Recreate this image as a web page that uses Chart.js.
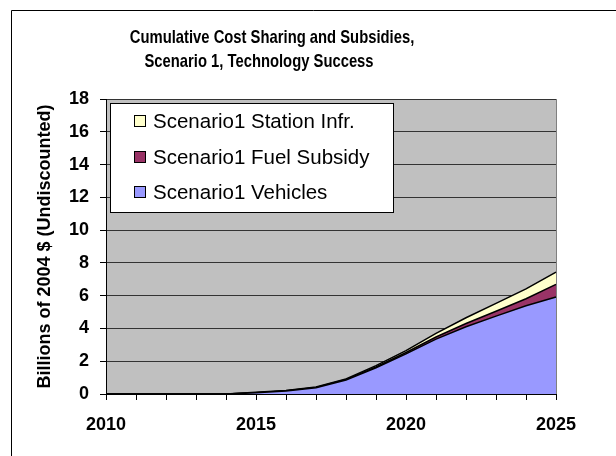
<!DOCTYPE html>
<html>
<head>
<meta charset="utf-8">
<script src="https://cdn.jsdelivr.net/npm/chart.js@4"></script>
<style>
  html, body { margin: 0; padding: 0; background: #fff; }
</style>
</head>
<body>
<canvas id="chart" width="616" height="456"></canvas>
<script>
// data (billions of 2004 $, cumulative)
const years = [2010, 2011, 2012, 2013, 2014, 2015, 2016, 2017, 2018, 2019, 2020, 2021, 2022, 2023, 2024, 2025];
const vehicles = [0, 0, 0, 0, 0, 0.07, 0.18, 0.38, 0.85, 1.6, 2.45, 3.35, 4.1, 4.75, 5.38, 5.92];
const fuelSubsidy = [0, 0, 0, 0, 0, 0.01, 0.02, 0.02, 0.03, 0.05, 0.08, 0.13, 0.2, 0.3, 0.43, 0.77];
const stationInfr = [0, 0, 0, 0, 0, 0.02, 0.02, 0.03, 0.04, 0.08, 0.12, 0.22, 0.35, 0.48, 0.6, 0.75];
const seriesNames = ["Scenario1 Vehicles", "Scenario1 Fuel Subsidy", "Scenario1 Station Infr."];
const seriesColors = ["#9999FF", "#993366", "#FFFFCC"];
const titleLines = ["Cumulative Cost Sharing and Subsidies,", "Scenario 1, Technology Success"];
const yAxisTitle = "Billions of 2004 $ (Undiscounted)";

const black = "#000";
const fontFamily = "'Liberation Sans', Arial, sans-serif";

// gray plot background, outer frame, title and the boxed legend
const excelLook = {
  id: "excelLook",
  beforeDraw(chart) {
    const { ctx, chartArea: a } = chart;
    ctx.save();
    ctx.fillStyle = "#fff";
    ctx.fillRect(0, 0, chart.width, chart.height);
    ctx.fillStyle = "#C0C0C0";
    ctx.fillRect(a.left, a.top, a.right - a.left, a.bottom - a.top);
    ctx.strokeStyle = "#808080";
    ctx.lineWidth = 1;
    ctx.strokeRect(a.left + 0.5, a.top + 0.5, a.right - a.left, a.bottom - a.top);
    ctx.restore();
  },
  afterDatasetsDraw(chart) {
    const { ctx, chartArea: a } = chart;
    ctx.save();
    ctx.strokeStyle = black;
    ctx.lineWidth = 1;
    ctx.beginPath();
    ctx.moveTo(a.left + 0.5, a.top);
    ctx.lineTo(a.left + 0.5, a.bottom + 0.5);
    ctx.lineTo(a.right, a.bottom + 0.5);
    ctx.stroke();
    ctx.restore();
  },
  afterDraw(chart) {
    const ctx = chart.ctx;
    ctx.save();
    // outer chart frame (only top and left edges show)
    ctx.strokeStyle = black;
    ctx.lineWidth = 1;
    ctx.beginPath();
    ctx.moveTo(11.5, chart.height);
    ctx.lineTo(11.5, 10.5);
    ctx.lineTo(chart.width, 10.5);
    ctx.stroke();

    // title, a bit stretched vertically like the original
    ctx.save();
    ctx.fillStyle = black;
    ctx.font = "bold 14.8px " + fontFamily;
    ctx.textAlign = "center";
    ctx.textBaseline = "middle";
    ctx.scale(1, 1.18);
    ctx.fillText(titleLines[0], 272, 38 / 1.18);
    ctx.fillText(titleLines[1], 259, 62 / 1.18);
    ctx.restore();

    // legend box
    ctx.fillStyle = "#fff";
    ctx.fillRect(110.5, 103.5, 283, 109);
    ctx.strokeRect(110.5, 103.5, 283, 109);
    const rows = [121, 157, 192];
    ctx.font = "20.5px " + fontFamily;
    ctx.textAlign = "left";
    ctx.textBaseline = "middle";
    for (let i = 0; i < 3; i++) {
      const k = 2 - i; // legend lists top series first
      ctx.fillStyle = seriesColors[k];
      ctx.fillRect(134.5, rows[i] - 5.5, 11, 11);
      ctx.strokeRect(134.5, rows[i] - 5.5, 11, 11);
      ctx.fillStyle = black;
      ctx.fillText(seriesNames[k], 153, rows[i] + 1);
    }
    ctx.restore();
  },
};

const seriesData = [vehicles, fuelSubsidy, stationInfr];
const datasets = seriesData.map((d, i) => ({
  label: seriesNames[i],
  data: d,
  backgroundColor: seriesColors[i],
  borderColor: black,
  borderWidth: 1.5,
  pointRadius: 0,
  tension: 0,
  fill: i === 0 ? "origin" : "-1",
}));

new Chart(document.getElementById("chart"), {
  type: "line",
  data: { labels: years, datasets: datasets },
  plugins: [excelLook],
  options: {
    responsive: false,
    animation: false,
    layout: { padding: { top: 99, left: 34, right: 60, bottom: 0 } },
    plugins: {
      legend: { display: false },
      title: { display: false },
      tooltip: { enabled: false },
    },
    scales: {
      x: {
        offset: false,
        afterFit(scale) { scale.height = 62; },
        grid: {
          offset: false,
          drawOnChartArea: false,
          tickLength: 6,
          tickColor: black,
        },
        border: { color: black },
        ticks: {
          autoSkip: false,
          maxRotation: 0,
          padding: 14,
          color: black,
          font: { family: fontFamily, size: 18, weight: "bold" },
          callback(val, idx) {
            return years[idx] % 5 === 0 ? String(years[idx]) : "";
          },
        },
      },
      y: {
        stacked: true,
        min: 0,
        max: 18,
        afterFit(scale) { scale.width = 72; },
        grid: {
          color: "#333",
          tickLength: 6,
          tickColor: black,
        },
        border: { color: black },
        ticks: {
          stepSize: 2,
          padding: 11,
          color: black,
          font: { family: fontFamily, size: 18, weight: "bold" },
        },
        title: {
          display: true,
          text: yAxisTitle,
          color: black,
          padding: 0,
          font: { family: fontFamily, size: 18, weight: "bold" },
        },
      },
    },
  },
});
</script>
</body>
</html>
